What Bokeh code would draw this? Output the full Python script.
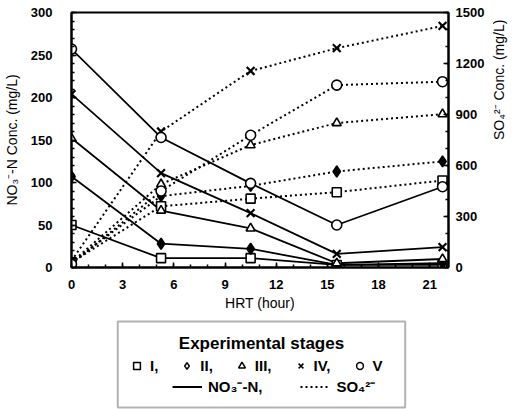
import math
from bokeh.plotting import figure
from bokeh.models import Range1d, LinearAxis, Legend, LegendItem, Label, FixedTicker, BoxAnnotation
from bokeh.layouts import column
from bokeh.embed import file_html
from bokeh.resources import INLINE

# ---- data ----
hrt = [0, 5.25, 10.5, 15.55, 21.75]
stages = ["I", "II", "III", "IV", "V"]
markers = ["square", "diamond", "triangle", "x", "circle"]

no3_I = [50, 11, 11, 3, 3]
no3_II = [107, 28, 22, 3, 5]
no3_III = [152, 67, 46, 5, 10]
no3_IV = [204, 111, 64, 16, 24]
no3_V = [257, 153, 99, 50, 95]

so4_I = [30, 360, 405, 443, 512]
so4_II = [30, 420, 480, 565, 624]
so4_III = [30, 490, 720, 850, 902]
so4_IV = [40, 800, 1156, 1290, 1421]
so4_V = [20, 450, 778, 1073, 1093]

x_ticks = [0, 3, 6, 9, 12, 15, 18, 21]
left_ticks = [0, 50, 100, 150, 200, 250, 300]
right_ticks = [0, 300, 600, 900, 1200, 1500]

no3_all = [no3_I, no3_II, no3_III, no3_IV, no3_V]
so4_all = [so4_I, so4_II, so4_III, so4_IV, so4_V]

FONT = "Liberation Sans"
BL, BR = 71, 64   # shared left / right borders

# ---- main figure ----
p = figure(width=518, height=318, x_range=Range1d(0, 22.1), y_range=Range1d(0, 300),
           output_backend="svg", toolbar_location=None,
           min_border_left=BL, min_border_right=BR, min_border_top=12, min_border_bottom=51,
           y_axis_location=None)
p.extra_y_ranges = {"so4": Range1d(0, 1500)}
p.xgrid.visible = False
p.ygrid.visible = False
p.outline_line_color = "black"
p.outline_line_width = 2
p.background_fill_color = "white"
p.border_fill_color = "white"

left = LinearAxis(axis_label="NO\u2083\u207b-N Conc. (mg/L)")
right = LinearAxis(y_range_name="so4", axis_label="SO\u2084\u00b2\u207b Conc. (mg/L)")
p.add_layout(left, "left")
p.add_layout(right, "right")

left.ticker = FixedTicker(ticks=left_ticks, minor_ticks=list(range(0, 301, 10)))
right.ticker = FixedTicker(ticks=right_ticks, minor_ticks=list(range(0, 1501, 100)))
p.xaxis.ticker = FixedTicker(ticks=x_ticks, minor_ticks=list(range(0, 23)))
p.xaxis.axis_label = "HRT (hour)"

for ax in [left, right, p.xaxis[0]]:
    ax.axis_line_width = 2
    ax.axis_line_color = "black"
    ax.major_tick_in = 5
    ax.major_tick_out = 0
    ax.minor_tick_in = 3
    ax.minor_tick_out = 0
    ax.major_tick_line_width = 1.5
    ax.minor_tick_line_width = 1.5
    ax.major_label_text_font = FONT
    ax.major_label_text_font_size = "13px"
    ax.major_label_text_font_style = "bold"
    ax.major_label_text_color = "black"
    ax.axis_label_text_font = FONT
    ax.axis_label_text_font_size = "14px"
    ax.axis_label_text_font_style = "normal"
    ax.axis_label_text_color = "black"

left.major_label_standoff = 19
left.axis_label_standoff = 8
right.major_label_standoff = 7
right.axis_label_standoff = 12
right.axis_label_orientation = math.pi / 2
p.xaxis.major_label_standoff = 12
p.xaxis.axis_label_standoff = 3

# lines
for no3, so4 in zip(no3_all, so4_all):
    p.line(hrt, no3, line_color="black", line_width=1.8)
    p.line(hrt, so4, y_range_name="so4", line_color="black", line_width=2, line_dash="2 3")

# markers
sizes = {"square": 9, "diamond": 11, "triangle": 9, "x": 11, "circle": 10}
for no3, so4, mk in zip(no3_all, so4_all, markers):
    fill = "black" if mk == "diamond" else "white"
    lw = 2.2 if mk == "x" else 1.6
    p.scatter(hrt, no3, marker=mk, size=sizes[mk], fill_color=fill, line_color="black", line_width=lw)
    p.scatter(hrt, so4, y_range_name="so4", marker=mk, size=sizes[mk], fill_color=fill,
              line_color="black", line_width=lw)

# ---- legend figure (coordinates = screen pixels) ----
q = figure(width=518, height=91, x_range=Range1d(BL, 518 - BR), y_range=Range1d(0, 91),
           output_backend="svg", toolbar_location=None,
           x_axis_location=None, y_axis_location=None,
           min_border_left=BL, min_border_right=BR, min_border_top=0, min_border_bottom=0)
q.xgrid.visible = False
q.ygrid.visible = False
q.outline_line_color = None
q.border_fill_color = "white"
q.background_fill_color = "white"

q.add_layout(BoxAnnotation(left=118, right=410, bottom=2, top=88, fill_color=None,
                           line_color="black", line_width=2))
q.add_layout(Label(x=264, y=66, text="Experimental stages", text_align="center",
                   text_baseline="middle", text_font=FONT, text_font_size="17px",
                   text_font_style="bold", text_color="black"))

nan = [float("nan")]
items1 = []
for st, mk in zip(stages, markers):
    r = q.scatter(nan, nan, marker=mk, size=7, fill_color="white", line_color="black",
                  line_width=1.5)
    lab = st if st == "V" else st + ","
    items1.append(LegendItem(label=lab, renderers=[r]))
r_solid = q.line(nan, nan, line_color="black", line_width=2)
r_dot = q.line(nan, nan, line_color="black", line_width=2, line_dash="2 3")
items2 = [LegendItem(label="NO\u2083\u207b-N,", renderers=[r_solid]),
          LegendItem(label="SO\u2084\u00b2\u207b", renderers=[r_dot])]

common = dict(orientation="horizontal", border_line_color=None, background_fill_alpha=0,
              padding=0, margin=0, label_text_font=FONT, label_text_font_size="15px",
              label_text_font_style="bold", label_text_color="black", label_height=18,
              label_width=0)
leg1 = Legend(items=items1, location=(57, 35), glyph_width=17, glyph_height=17,
              label_standoff=5, spacing=20, **common)
leg2 = Legend(items=items2, location=(101, 13), glyph_width=30, glyph_height=17,
              label_standoff=6, spacing=38, **common)
q.add_layout(leg1)
q.add_layout(leg2)

layout = column(p, q)
open("out.html", "w").write(file_html(layout, INLINE))
